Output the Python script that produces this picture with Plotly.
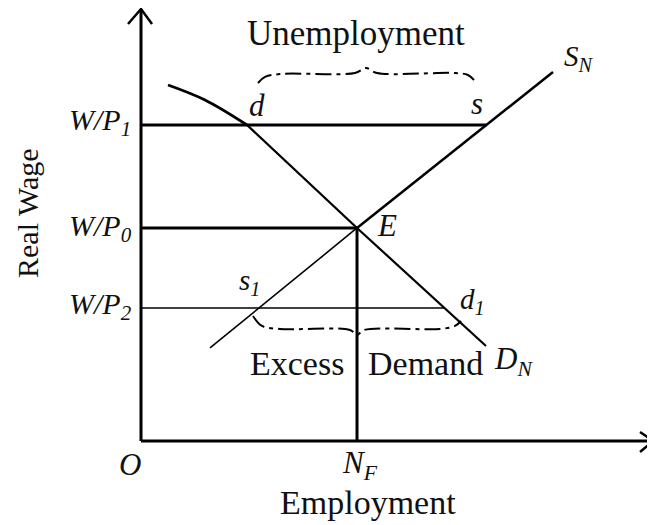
import numpy as np
import plotly.graph_objects as go

# ---- data (conceptual units: employment on x, real wage on y) ----
NF = 5.0
wage_levels = {"W/P1": 7.42, "W/P0": 5.0, "W/P2": 3.12}

demand_x = [0.625, 1.481, 2.454, 5.0, 7.986]
demand_y = [8.357, 8.005, 7.418, 5.0, 2.23]

supply_x = [1.597, 5.0, 9.537]
supply_y = [2.183, 5.0, 8.662]

unemp_brace_x = [2.708, 2.870, 3.218, 4.954, 5.208, 5.463, 7.269, 7.569, 7.708]
unemp_brace_y = [8.404, 8.545, 8.615, 8.638, 8.756, 8.638, 8.638, 8.592, 8.474]

excess_brace_x = [2.593, 2.801, 3.218, 4.838, 5.0, 5.162, 6.921, 7.269, 7.407]
excess_brace_y = [2.934, 2.700, 2.629, 2.606, 2.488, 2.606, 2.629, 2.700, 2.817]

x_axis_end = 11.852
y_axis_end = 10.14

x_range = [-3.079, 11.898]
y_range = [-1.972, 10.164]

# intersections
w1, w0, w2 = wage_levels["W/P1"], wage_levels["W/P0"], wage_levels["W/P2"]
s_x = float(np.interp(w1, supply_y, supply_x))
s1_x = float(np.interp(w2, supply_y, supply_x))
d1_x = float(np.interp(w2, demand_y[::-1], demand_x[::-1]))

fig = go.Figure()
K = "black"

def line(xs, ys, w=2.5, dash="solid", shape="linear"):
    fig.add_trace(go.Scatter(x=xs, y=ys, mode="lines",
                             line=dict(color=K, width=w, dash=dash, shape=shape),
                             hoverinfo="skip", showlegend=False))

# axes
line([0, 0], [0, y_axis_end], w=3)
line([0, x_axis_end], [0, 0], w=3)
# arrowheads (open chevrons)
line([-0.301, 0, 0.255], [y_axis_end - 0.352, y_axis_end, y_axis_end - 0.352], w=2.5)
line([x_axis_end - 0.301, x_axis_end, x_axis_end - 0.301], [0.211, 0, -0.258], w=2.5)

# wage lines
line([0, s_x], [w1, w1], w=3)
line([0, NF], [w0, w0], w=3)
line([0, d1_x], [w2, w2], w=1.5)
line([NF, NF], [0, w0], w=3)

# demand curve: curved top, then straight
line(demand_x[:3], demand_y[:3], w=2.8, shape="spline")
line(demand_x[2:4], demand_y[2:4], w=2.3)
line(demand_x[3:], demand_y[3:], w=2.2)
# supply curve
line(supply_x[:2], supply_y[:2], w=1.6)
line(supply_x[1:], supply_y[1:], w=2.5)

# braces
line(unemp_brace_x, unemp_brace_y, w=2, dash="16px,5px,4px,5px", shape="spline")
line(excess_brace_x, excess_brace_y, w=2, dash="16px,5px,4px,5px", shape="spline")

FONT = "Liberation Serif"

def txt(x, y, t, size=30, xa="center", ya="middle", angle=0):
    fig.add_annotation(x=x, y=y, xref="x", yref="y", text=t, showarrow=False,
                       xanchor=xa, yanchor=ya, textangle=angle,
                       font=dict(family=FONT, size=size, color="#111"))

txt(4.97, 9.577, "Unemployment", size=35)
txt(3.6, 1.83, "Excess", size=34)
txt(6.586, 1.83, "Demand", size=34)
txt(5.243, -1.432, "Employment", size=34)
txt(-2.616, 5.329, "Real Wage", size=30, angle=-90)

txt(-1.713, w1 + 0.07, "<i>W/P<sub>1</sub></i>", size=30, xa="left")
txt(-1.713, w0, "<i>W/P<sub>0</sub></i>", size=30, xa="left")
txt(-1.713, w2 + 0.05, "<i>W/P<sub>2</sub></i>", size=30, xa="left")

txt(-0.255, -0.563, "<i>O</i>", size=31)
txt(4.606, -0.563, "<i>N<sub>F</sub></i>", size=31, xa="left")

txt(2.685, 7.864, "<i>d</i>", size=31)
txt(7.778, 7.934, "<i>s</i>", size=31)
txt(5.694, 5.07, "<i>E</i>", size=31)
txt(9.745, 8.99, "<i>S<sub>N</sub></i>", size=29, xa="left")
txt(2.222, 3.73, "<i>s<sub>1</sub></i>", size=29, xa="left")
txt(7.338, 3.286, "<i>d<sub>1</sub></i>", size=29, xa="left")
txt(8.125, 1.878, "<i>D<sub>N</sub></i>", size=31, xa="left")

fig.update_xaxes(range=x_range, visible=False, fixedrange=True)
fig.update_yaxes(range=y_range, visible=False, fixedrange=True)
fig.update_layout(width=647, height=517, margin=dict(l=0, r=0, t=0, b=0),
                  paper_bgcolor="white", plot_bgcolor="white", showlegend=False)

fig.write_html("out.html")
